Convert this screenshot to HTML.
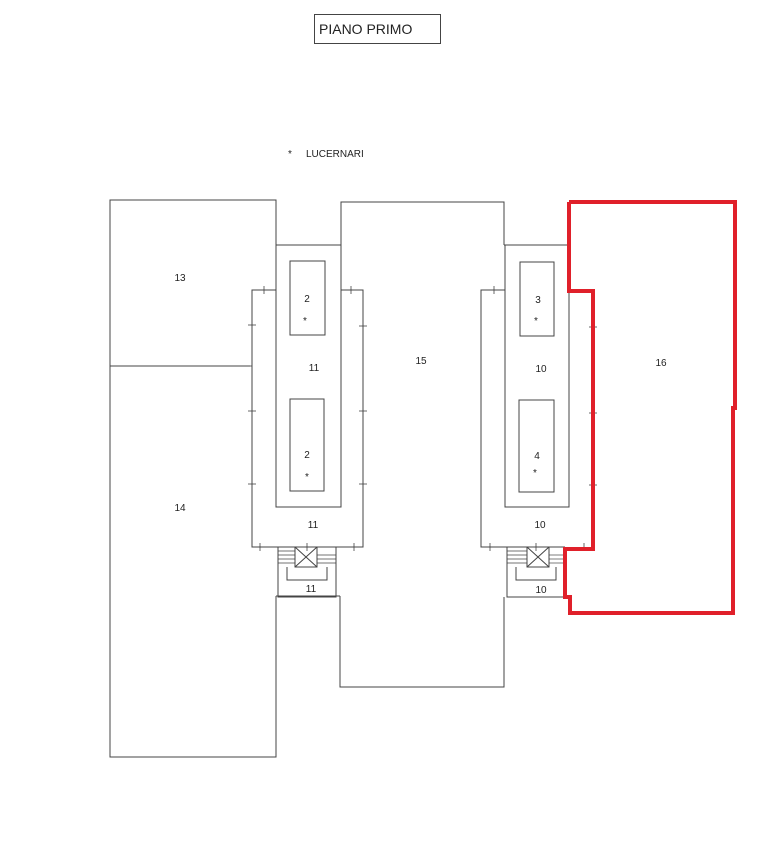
<!DOCTYPE html>
<html><head><style>body{margin:0;background:#fff}svg{display:block}text{font-family:"Liberation Sans",sans-serif;fill:#222}</style></head><body>
<svg width="768" height="860" viewBox="0 0 768 860">
<g fill="none" stroke="#444" stroke-width="1">
<rect x="314.5" y="14.5" width="126" height="29"/>
<polyline points="276,245 276,200 110,200 110,757 276,757 276,596"/>
<line x1="110" y1="366" x2="250" y2="366"/>
<rect x="276" y="245" width="65" height="262"/>
<polyline points="276,290 252,290 252,547 363,547 363,290 341,290"/>
<rect x="290" y="261" width="35" height="74"/>
<rect x="290" y="399" width="34" height="92"/>
<polyline points="278,547 278,597 336,597 336,547"/>
<rect x="295" y="547" width="22" height="20"/>
<line x1="295" y1="547" x2="317" y2="567"/><line x1="317" y1="547" x2="295" y2="567"/>
<polyline points="287,567 287,580 327,580 327,567"/>
<g stroke-width="0.7"><line x1="278" y1="551" x2="295" y2="551"/><line x1="278" y1="555" x2="295" y2="555"/><line x1="278" y1="559" x2="295" y2="559"/><line x1="278" y1="563" x2="295" y2="563"/><line x1="317" y1="555" x2="336" y2="555"/><line x1="317" y1="559" x2="336" y2="559"/><line x1="317" y1="563" x2="336" y2="563"/></g>
<polyline points="276,596 340,596"/>
<polyline points="341,245 341,202 504,202 504,245"/>
<polyline points="340,596 340,687 504,687 504,597"/>
<line x1="504" y1="245" x2="569" y2="245"/>
<rect x="505" y="245" width="64" height="262"/>
<polyline points="505,290 481,290 481,547 565,547"/>
<rect x="520" y="262" width="34" height="74"/>
<rect x="519" y="400" width="35" height="92"/>
<polyline points="507,547 507,597 565,597"/>
<rect x="527" y="547" width="22" height="20"/>
<line x1="527" y1="547" x2="549" y2="567"/><line x1="549" y1="547" x2="527" y2="567"/>
<polyline points="516,567 516,580 556,580 556,567"/>
<g stroke-width="0.7"><line x1="507" y1="551" x2="527" y2="551"/><line x1="507" y1="555" x2="527" y2="555"/><line x1="507" y1="559" x2="527" y2="559"/><line x1="507" y1="563" x2="527" y2="563"/><line x1="549" y1="555" x2="565" y2="555"/><line x1="549" y1="559" x2="565" y2="559"/><line x1="549" y1="563" x2="565" y2="563"/></g>
<g stroke-width="0.8">
<line x1="264" y1="286" x2="264" y2="294"/><line x1="351" y1="286" x2="351" y2="294"/>
<line x1="248" y1="325" x2="256" y2="325"/><line x1="359" y1="326" x2="367" y2="326"/>
<line x1="244" y1="366" x2="252" y2="366"/>
<line x1="248" y1="411" x2="256" y2="411"/><line x1="359" y1="411" x2="367" y2="411"/>
<line x1="248" y1="484" x2="256" y2="484"/><line x1="359" y1="484" x2="367" y2="484"/>
<line x1="260" y1="543" x2="260" y2="551"/><line x1="307" y1="543" x2="307" y2="551"/><line x1="354" y1="543" x2="354" y2="551"/>
<line x1="494" y1="286" x2="494" y2="294"/>
<line x1="589" y1="327" x2="597" y2="327"/><line x1="589" y1="413" x2="597" y2="413"/><line x1="589" y1="485" x2="597" y2="485"/>
<line x1="490" y1="543" x2="490" y2="551"/><line x1="536" y1="543" x2="536" y2="551"/><line x1="584" y1="543" x2="584" y2="551"/>
</g>
</g>
<polyline points="569,202 735,202 735,408 733,408 733,613 570,613 570,597 565,597 565,549 593,549 593,291 569,291 569,202" fill="none" stroke="#e0202a" stroke-width="4" stroke-linejoin="miter"/>
<g font-size="14"><text x="319" y="34">PIANO PRIMO</text></g>
<g font-size="10" text-anchor="middle">
<text x="290" y="157">*</text><text x="306" y="157" text-anchor="start">LUCERNARI</text>
<text x="180" y="281">13</text><text x="180" y="511">14</text>
<text x="307" y="302">2</text><text x="305" y="324">*</text>
<text x="314" y="371">11</text>
<text x="307" y="458">2</text><text x="307" y="480">*</text>
<text x="313" y="528">11</text><text x="311" y="592">11</text>
<text x="421" y="364">15</text>
<text x="538" y="303">3</text><text x="536" y="324">*</text>
<text x="541" y="372">10</text>
<text x="537" y="459">4</text><text x="535" y="476">*</text>
<text x="540" y="528">10</text><text x="541" y="593">10</text>
<text x="661" y="366">16</text>
</g>
</svg>
</body></html>
